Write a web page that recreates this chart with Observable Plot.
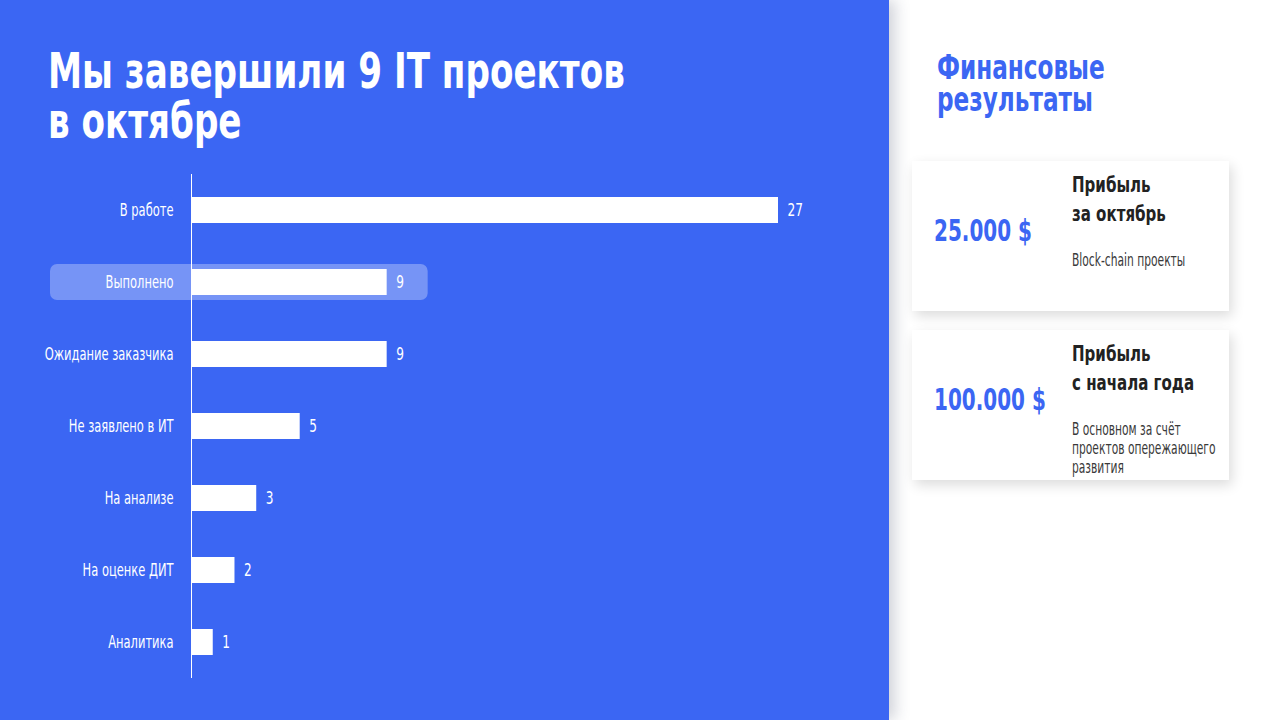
<!DOCTYPE html>
<html>
<head>
<meta charset="utf-8">
<script src="https://cdn.jsdelivr.net/npm/d3@7"></script>
<script src="https://cdn.jsdelivr.net/npm/@observablehq/plot@0.6"></script>
<style>
  html, body { margin: 0; padding: 0; width: 1280px; height: 720px; overflow: hidden; background: #fff; }
  body { font-family: "DejaVu Sans Condensed", "Liberation Sans Narrow", "Roboto", sans-serif; }
  .sx { display: inline-block; white-space: nowrap; transform-origin: left top; }
  .sx > div { white-space: nowrap; }
  #left { position: absolute; left: 0; top: 0; width: 889px; height: 720px; background: #3b66f3; z-index: 2;
          box-shadow: 6px 0 14px rgba(40,50,80,0.22); }
  #title { position: absolute; left: 48px; top: 46px; margin: 0; color: #fff; font-weight: 700;
           font-size: 50px; line-height: 50px; }
  #chart { position: absolute; left: 0; top: 160px; }
  #right { position: absolute; left: 889px; top: 0; width: 391px; height: 720px; background: #fff; z-index: 1; }
  #rtitle { position: absolute; left: 48px; top: 52px; margin: 0; color: #3b66f3; font-weight: 700; font-size: 33px; line-height: 32px; }
  .card { position: absolute; left: 23px; width: 317px; height: 150px; background: #fff;
          box-shadow: 3px 5px 12px rgba(0,0,0,0.14); }
  .amount { position: absolute; left: 22px; top: 52px; color: #3b66f3; font-weight: 700; font-size: 30px; line-height: 35px; }
  .head { position: absolute; left: 160px; top: 9px; color: #222; font-weight: 700; font-size: 22px; line-height: 29px; }
  .desc { position: absolute; left: 160px; top: 90px; color: #3a3a3a; font-weight: 300; font-size: 17px; line-height: 19px; }
</style>
</head>
<body>
<div id="left">
  <div id="title"></div>
  <div id="chart"></div>
</div>
<div id="right">
  <div id="rtitle"></div>
  <div class="card" id="card1" style="top:161px"></div>
  <div class="card" id="card2" style="top:330px"></div>
</div>
<script>
const titleLines = ["Мы завершили 9 IT проектов", "в октябре"];
const categories = ["В работе", "Выполнено", "Ожидание заказчика", "Не заявлено в ИТ", "На анализе", "На оценке ДИТ", "Аналитика"];
const values = [27, 9, 9, 5, 3, 2, 1];
const highlighted = "Выполнено";

const sideTitle = ["Финансовые", "результаты"];
const amounts = ["25.000 $", "100.000 $"];
const headings = [["Прибыль", "за октябрь"], ["Прибыль", "с начала  года"]];
const descriptions = [["Block-chain проекты"], ["В основном  за счёт", "проектов опережающего", "развития"]];

const sx = (lines, s) => `<span class="sx" style="transform:scaleX(${s})">${lines.map(l => `<div>${l}</div>`).join("")}</span>`;
document.getElementById("title").innerHTML = sx(titleLines, 0.76);
document.getElementById("rtitle").innerHTML = sx(sideTitle, 0.78);

["card1", "card2"].forEach((id, i) => {
  const c = document.getElementById(id);
  c.innerHTML = `<div class="amount">${sx([amounts[i]], 0.74)}</div>
    <div class="head">${sx(headings[i], 0.76)}</div>
    <div class="desc">${sx(descriptions[i], 0.7)}</div>`;
});

const data = categories.map((c, i) => ({category: c, value: values[i]}));
const font = '"DejaVu Sans Condensed", "Liberation Sans Narrow", sans-serif';

const chart = Plot.plot({
  width: 889,
  height: 540,
  marginLeft: 191,
  marginRight: 111,
  marginTop: 14,
  marginBottom: 22,
  style: {background: "transparent", color: "#fff", fontFamily: font, fontSize: "17px", overflow: "visible"},
  x: {domain: [0, 27], axis: null},
  y: {domain: categories, paddingInner: 0.64, paddingOuter: 0.32, label: null},
  marks: [
    Plot.barX(data.filter(d => d.category === highlighted), {
      x: "value", y: "category", fill: "#fff", fillOpacity: 0.3, rx: 7,
      insetLeft: -141, insetRight: -41, insetTop: -5, insetBottom: -5
    }),
    Plot.ruleX([0], {stroke: "#fff", strokeWidth: 1}),
    Plot.barX(data, {x: "value", y: "category", fill: "#fff"}),
    Plot.text(data, {x: "value", y: "category", text: d => String(d.value), dx: 9, textAnchor: "start",
      fill: "#fff", fontSize: 18}),
    Plot.axisY({tickSize: 0, tickPadding: 18, fontSize: 17, fill: "#fff", label: null})
  ]
});
document.getElementById("chart").appendChild(chart);
// condense SVG text glyphs to mimic a narrow typeface
chart.querySelectorAll("text").forEach(t => {
  const len = t.getComputedTextLength();
  if (len > 0) {
    t.setAttribute("textLength", (len * 0.75).toFixed(1));
    t.setAttribute("lengthAdjust", "spacingAndGlyphs");
  }
});
</script>
</body>
</html>
